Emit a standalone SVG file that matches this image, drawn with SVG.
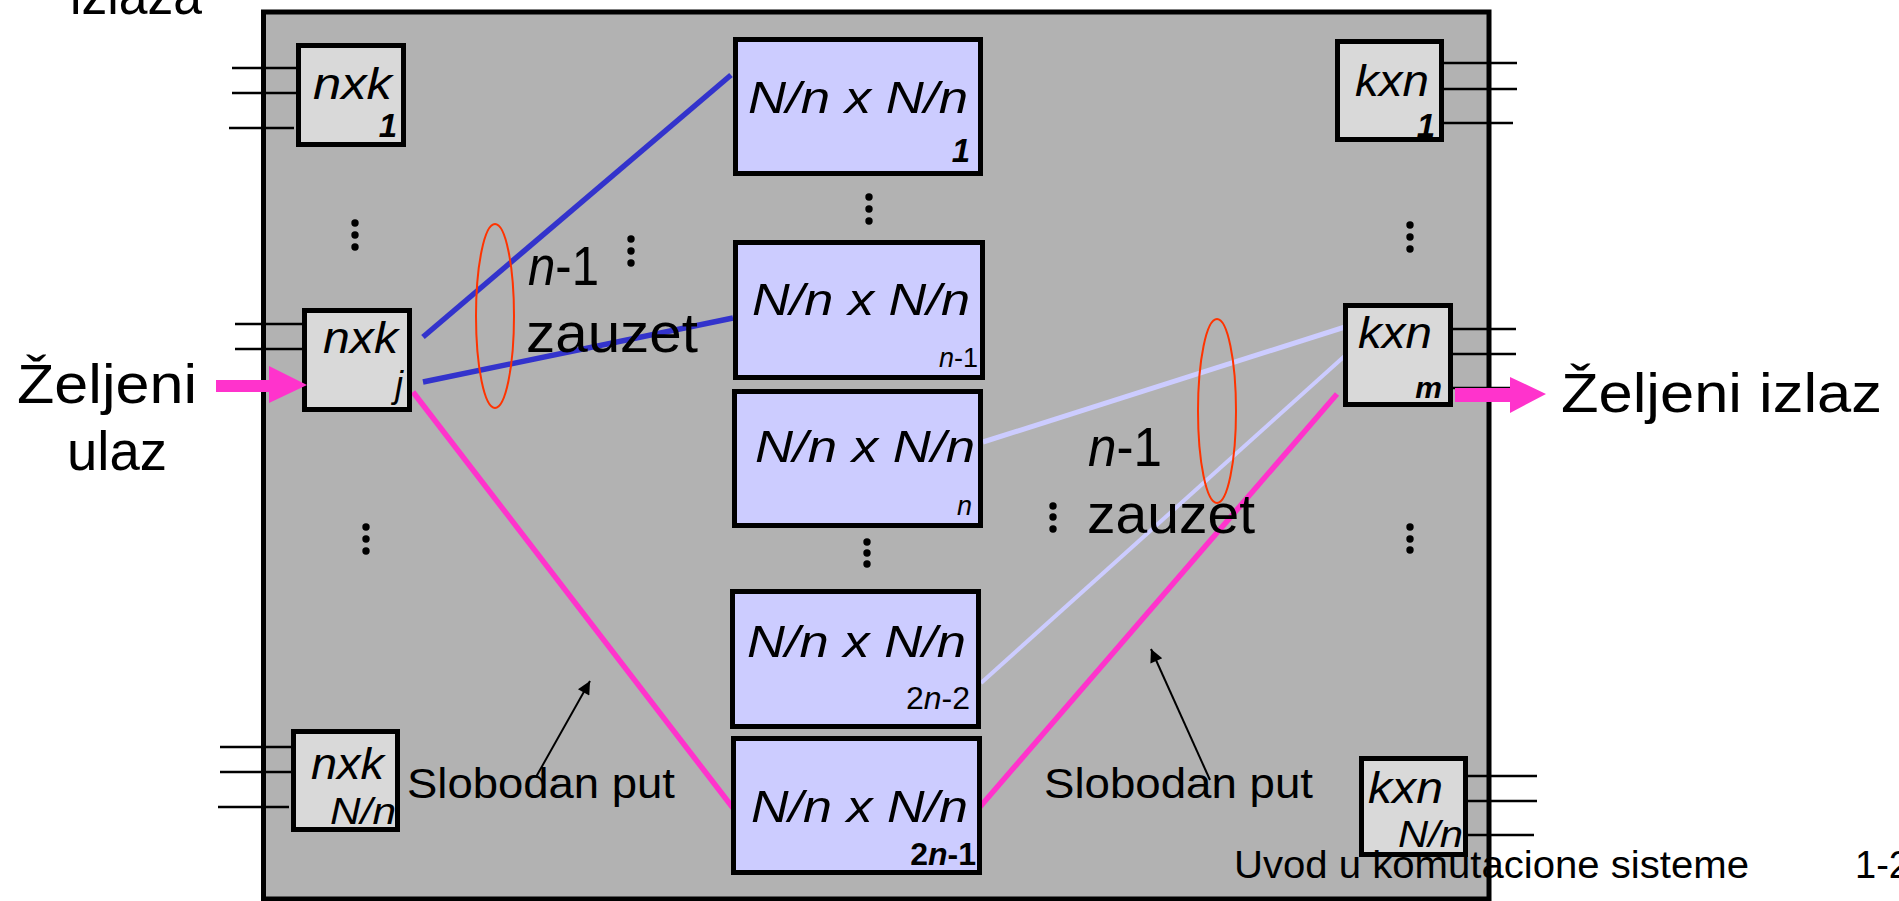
<svg xmlns="http://www.w3.org/2000/svg" width="1899" height="901" viewBox="0 0 1899 901">
<defs>
<style>
.bg{fill:#b2b2b2;stroke:#000;stroke-width:5}
.sb{fill:#d9d9d9;stroke:#000;stroke-width:5}
.mb{fill:#ccccff;stroke:#000;stroke-width:5}
.pin{stroke:#000;stroke-width:2.5}
.t{font-family:"Liberation Sans",Arial,sans-serif;fill:#000}
.i{font-style:italic}
.b{font-weight:bold}
.big{font-size:56px}
.mid{font-size:45px}
.sm{font-size:44px}
.ell{fill:none;stroke:#ff3300;stroke-width:2}
.dot{fill:#000}
</style>
<marker id="ah" viewBox="0 0 10 10" refX="10" refY="5" markerUnits="userSpaceOnUse" markerWidth="16" markerHeight="13" orient="auto">
<path d="M0,0 L10,5 L0,10 z" fill="#000"/>
</marker>
</defs>

<rect class="bg" x="263.5" y="12" width="1225.5" height="887"/>
<text class="t big" x="70" y="14" textLength="132" lengthAdjust="spacingAndGlyphs">izlaza</text>

<g id="connectors">
<line x1="423" y1="337" x2="731" y2="75" stroke="#3333cc" stroke-width="5.5"/>
<line x1="423" y1="382" x2="733" y2="318" stroke="#3333cc" stroke-width="5.5"/>
<line x1="413" y1="392" x2="733" y2="808" stroke="#ff33cc" stroke-width="5.5"/>
<line x1="979" y1="808" x2="1337" y2="394" stroke="#ff33cc" stroke-width="5.5"/>
<line x1="983" y1="442" x2="1345" y2="327" stroke="#ccccff" stroke-width="5"/>
<line x1="981" y1="683" x2="1348" y2="353" stroke="#ccccff" stroke-width="4"/>
<line x1="536" y1="777" x2="590" y2="681" stroke="#000" stroke-width="2" marker-end="url(#ah)"/>
<line x1="1210" y1="780" x2="1151" y2="649" stroke="#000" stroke-width="2" marker-end="url(#ah)"/>
</g>

<g id="node-L1">
<line class="pin" x1="232" y1="68" x2="296" y2="68"/>
<line class="pin" x1="232" y1="93" x2="296" y2="93"/>
<line class="pin" x1="229" y1="128" x2="294" y2="128"/>
<rect class="sb" x="298.5" y="45.5" width="105" height="99"/>
<text class="t sm i" x="313" y="99" textLength="79" lengthAdjust="spacingAndGlyphs">nxk</text>
<text class="t b i" x="397" y="137" font-size="33" text-anchor="end">1</text>
</g>

<g id="node-Lj">
<line class="pin" x1="235" y1="324" x2="302" y2="324"/>
<line class="pin" x1="235" y1="349" x2="302" y2="349"/>
<rect class="sb" x="304.5" y="310.5" width="105" height="99"/>
<text class="t sm i" x="323" y="353" textLength="75" lengthAdjust="spacingAndGlyphs">nxk</text>
<text class="t i" x="403" y="397" font-size="36" text-anchor="end">j</text>
</g>

<g id="node-LN">
<line class="pin" x1="220" y1="747" x2="291" y2="747"/>
<line class="pin" x1="220" y1="772" x2="291" y2="772"/>
<line class="pin" x1="218" y1="807" x2="289" y2="807"/>
<rect class="sb" x="293.5" y="731.5" width="104" height="98"/>
<text class="t sm i" x="311" y="779" textLength="73" lengthAdjust="spacingAndGlyphs">nxk</text>
<text class="t i" x="330" y="824" font-size="36" textLength="66" lengthAdjust="spacingAndGlyphs">N/n</text>
</g>

<g id="node-R1">
<line class="pin" x1="1444" y1="63" x2="1517" y2="63"/>
<line class="pin" x1="1444" y1="89" x2="1517" y2="89"/>
<line class="pin" x1="1444" y1="123" x2="1513" y2="123"/>
<rect class="sb" x="1337.5" y="41.5" width="104" height="98"/>
<text class="t sm i" x="1355" y="96" textLength="74" lengthAdjust="spacingAndGlyphs">kxn</text>
<text class="t b i" x="1435" y="137" font-size="33" text-anchor="end">1</text>
</g>

<g id="node-Rm">
<line class="pin" x1="1453" y1="329" x2="1516" y2="329"/>
<line class="pin" x1="1453" y1="354" x2="1516" y2="354"/>
<line class="pin" x1="1453" y1="388" x2="1510" y2="388"/>
<rect class="sb" x="1345.5" y="305.5" width="105" height="99"/>
<text class="t sm i" x="1358" y="348" textLength="74" lengthAdjust="spacingAndGlyphs">kxn</text>
<text class="t i b" x="1442" y="398" font-size="30" text-anchor="end">m</text>
</g>

<g id="node-RN">
<line class="pin" x1="1468" y1="776" x2="1537" y2="776"/>
<line class="pin" x1="1468" y1="801" x2="1537" y2="801"/>
<line class="pin" x1="1468" y1="835" x2="1534" y2="835"/>
<rect class="sb" x="1361.5" y="758.5" width="104" height="96"/>
<text class="t sm i" x="1368" y="803" textLength="75" lengthAdjust="spacingAndGlyphs">kxn</text>
<text class="t i" x="1398" y="847" font-size="36" textLength="65" lengthAdjust="spacingAndGlyphs">N/n</text>
</g>

<g id="node-M1">
<rect class="mb" x="735.5" y="39.5" width="245" height="134"/>
<text class="t mid i" x="748" y="113" textLength="220" lengthAdjust="spacingAndGlyphs">N/n x N/n</text>
<text class="t b i" x="970" y="162" font-size="33" text-anchor="end">1</text>
</g>

<g id="node-Mn1">
<rect class="mb" x="735.5" y="242.5" width="247" height="135"/>
<text class="t mid i" x="752" y="315" textLength="218" lengthAdjust="spacingAndGlyphs">N/n x N/n</text>
<text class="t" x="978" y="367" font-size="27" text-anchor="end"><tspan class="i">n</tspan>-1</text>
</g>

<g id="node-Mn">
<rect class="mb" x="734.5" y="391.5" width="246" height="134"/>
<text class="t mid i" x="755" y="462" textLength="220" lengthAdjust="spacingAndGlyphs">N/n x N/n</text>
<text class="t i" x="972" y="515" font-size="27" text-anchor="end">n</text>
</g>

<g id="node-M2n2">
<rect class="mb" x="732.5" y="591.5" width="246" height="135"/>
<text class="t mid i" x="747" y="657" textLength="219" lengthAdjust="spacingAndGlyphs">N/n x N/n</text>
<text class="t" x="970" y="709" font-size="32" text-anchor="end">2<tspan class="i">n</tspan>-2</text>
</g>

<g id="node-M2n1">
<rect class="mb" x="733.5" y="738.5" width="246" height="134"/>
<text class="t mid i" x="751" y="822" textLength="217" lengthAdjust="spacingAndGlyphs">N/n x N/n</text>
<text class="t b" x="976" y="865" font-size="32" text-anchor="end">2<tspan class="i">n</tspan>-1</text>
</g>

<g id="io-arrows">
<path d="M216,380 L269,380 L269,366 L307,385 L269,403 L269,392 L216,392 z" fill="#ff33cc"/>
<path d="M1455,388 L1510,388 L1510,377 L1546,394 L1510,413 L1510,402 L1455,402 z" fill="#ff33cc"/>
</g>

<g id="dots">
<circle class="dot" cx="355" cy="223" r="3.7"/><circle class="dot" cx="355" cy="235" r="3.7"/><circle class="dot" cx="355" cy="247" r="3.7"/>
<circle class="dot" cx="366" cy="527" r="3.7"/><circle class="dot" cx="366" cy="539" r="3.7"/><circle class="dot" cx="366" cy="551" r="3.7"/>
<circle class="dot" cx="869" cy="197" r="3.7"/><circle class="dot" cx="869" cy="209" r="3.7"/><circle class="dot" cx="869" cy="221" r="3.7"/>
<circle class="dot" cx="631" cy="239" r="3.7"/><circle class="dot" cx="631" cy="251" r="3.7"/><circle class="dot" cx="631" cy="263" r="3.7"/>
<circle class="dot" cx="867" cy="542" r="3.7"/><circle class="dot" cx="867" cy="553" r="3.7"/><circle class="dot" cx="867" cy="564" r="3.7"/>
<circle class="dot" cx="1053" cy="506" r="3.7"/><circle class="dot" cx="1053" cy="517" r="3.7"/><circle class="dot" cx="1053" cy="529" r="3.7"/>
<circle class="dot" cx="1410" cy="225" r="3.7"/><circle class="dot" cx="1410" cy="237" r="3.7"/><circle class="dot" cx="1410" cy="249" r="3.7"/>
<circle class="dot" cx="1410" cy="527" r="3.7"/><circle class="dot" cx="1410" cy="539" r="3.7"/><circle class="dot" cx="1410" cy="550" r="3.7"/>
</g>

<g id="labels">
<ellipse class="ell" cx="495" cy="316" rx="19" ry="92"/>
<ellipse class="ell" cx="1217" cy="411" rx="19" ry="92"/>
<text class="t big" x="528" y="285" textLength="71" lengthAdjust="spacingAndGlyphs"><tspan class="i">n</tspan>-1</text>
<text class="t big" x="526" y="352" textLength="172" lengthAdjust="spacingAndGlyphs">zauzet</text>
<text class="t big" x="1088" y="466" textLength="74" lengthAdjust="spacingAndGlyphs"><tspan class="i">n</tspan>-1</text>
<text class="t big" x="1087" y="533" textLength="168" lengthAdjust="spacingAndGlyphs">zauzet</text>
<text class="t" x="407" y="798" font-size="42" textLength="268" lengthAdjust="spacingAndGlyphs">Slobodan put</text>
<text class="t" x="1044" y="798" font-size="42" textLength="269" lengthAdjust="spacingAndGlyphs">Slobodan put</text>
<text class="t big" x="17" y="403" textLength="180" lengthAdjust="spacingAndGlyphs">Željeni</text>
<text class="t big" x="67" y="470" textLength="100" lengthAdjust="spacingAndGlyphs">ulaz</text>
<text class="t big" x="1561" y="412" textLength="321" lengthAdjust="spacingAndGlyphs">Željeni izlaz</text>
<text class="t" x="1234" y="878" font-size="38" textLength="515" lengthAdjust="spacingAndGlyphs">Uvod u komutacione sisteme</text>
<text class="t" x="1855" y="878" font-size="38">1-2</text>
</g>
</svg>
